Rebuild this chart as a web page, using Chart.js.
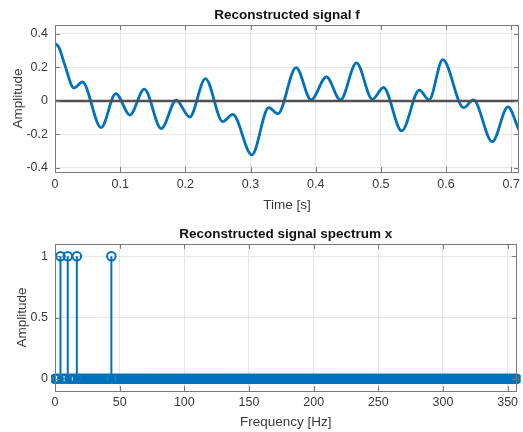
<!DOCTYPE html>
<html>
<head>
<meta charset="utf-8">
<title>Reconstructed signal</title>
<script src="https://cdn.jsdelivr.net/npm/chart.js@4.4.1/dist/chart.umd.min.js"></script>
<style>
  html, body { margin: 0; padding: 0; background: #fff; }
  #wrap { position: relative; width: 523px; height: 432px; }
  canvas { position: absolute; left: 0; }
  #signal-chart { top: 0; }
  #spectrum-chart { top: 215px; }
</style>
</head>
<body>
<div id="wrap">
  <canvas id="signal-chart" width="523" height="215"></canvas>
  <canvas id="spectrum-chart" width="523" height="217"></canvas>
</div>
<script>
/* ── Time signal f (extrema + a few slope points) ── */
const timeS = [0, 0.006, 0.015, 0.029, 0.042, 0.0708, 0.0933, 0.115, 0.137, 0.163,
  0.186, 0.2067, 0.2308, 0.2574, 0.2728, 0.302, 0.328, 0.342, 0.370, 0.393,
  0.4165, 0.438, 0.4626, 0.487, 0.504, 0.532, 0.559, 0.574, 0.595, 0.627,
  0.642, 0.671, 0.695, 0.712];
const amplitude = [0.342, 0.320, 0.215, 0.078, 0.113, -0.159, 0.044, -0.084, 0.070, -0.165,
  0.004, -0.096, 0.133, -0.123, -0.080, -0.322, -0.040, -0.076, 0.199, 0.006,
  0.143, 0.006, 0.227, 0.010, 0.080, -0.179, 0.064, 0.006, 0.247, -0.040,
  0.006, -0.243, -0.036, -0.175];
const timeTicks = [0, 0.1, 0.2, 0.3, 0.4, 0.5, 0.6, 0.7];
const timeLabels = ['0', '0.1', '0.2', '0.3', '0.4', '0.5', '0.6', '0.7'];
const ampTicks = [-0.4, -0.2, 0, 0.2, 0.4];
const ampLabels = ['-0.4', '-0.2', '0', '0.2', '0.4'];

/* ── Spectrum x (one-sided FFT bins) ── */
const sampleRate = 720;
const fftSize = 512;
const peakBins = [3, 7, 12, 31];
const peakAmps = [1, 1, 1, 1];
const freqTicks = [0, 50, 100, 150, 200, 250, 300, 350];
const freqLabels = ['0', '50', '100', '150', '200', '250', '300', '350'];
const specTicks = [0, 0.5, 1];
const specLabels = ['0', '0.5', '1'];

const COLORS = {
  line: '#0072BD',
  zero: '#4f4f4f',
  grid: '#e6e6e6',
  box: '#7a7a7a',
  text: '#3a3a3a',
  title: '#111111',
};

Chart.defaults.font.family = '"Liberation Sans", Arial, Helvetica, sans-serif';

// box around the axes + inward tick marks on all four sides
const axesBox = {
  id: 'axesBox',
  afterDatasetsDraw(chart) {
    const { ctx, chartArea: a, scales } = chart;
    const len = 5;
    ctx.save();
    ctx.strokeStyle = COLORS.box;
    ctx.lineWidth = 1;
    ctx.beginPath();
    scales.x.ticks.forEach(t => {
      const px = Math.round(scales.x.getPixelForValue(t.value)) + 0.5;
      ctx.moveTo(px, a.bottom); ctx.lineTo(px, a.bottom - len);
      ctx.moveTo(px, a.top); ctx.lineTo(px, a.top + len);
    });
    scales.y.ticks.forEach(t => {
      const py = Math.round(scales.y.getPixelForValue(t.value)) + 0.5;
      ctx.moveTo(a.left, py); ctx.lineTo(a.left + len, py);
      ctx.moveTo(a.right, py); ctx.lineTo(a.right - len, py);
    });
    ctx.stroke();
    ctx.strokeRect(Math.round(a.left) + 0.5, Math.round(a.top) + 0.5,
      Math.round(a.width) - 1, Math.round(a.height));
    ctx.restore();
  }
};

function setTicks(values) {
  return (scale) => { scale.ticks = values.map(v => ({ value: v })); };
}

function xAxis(min, max, ticks, labels, title, tickPad, height) {
  return {
    type: 'linear', min, max,
    afterBuildTicks: setTicks(ticks),
    afterFit: s => {
      s.height = height;
      // let the last label hang past the box, the right margin has room
      s.paddingLeft = 0;
      s.paddingRight = 0;
    },
    grid: { color: COLORS.grid, drawTicks: false },
    border: { display: false },
    ticks: {
      padding: tickPad, color: COLORS.text, font: { size: 12.5 },
      maxRotation: 0, autoSkip: false, callback: (v, i) => labels[i],
    },
    title: {
      display: true, text: title, color: COLORS.text,
      font: { size: 13.5 }, padding: { top: 0, bottom: 1.9 },
    },
  };
}

function yAxis(min, max, ticks, labels, title, titlePad) {
  return {
    type: 'linear', min, max,
    afterBuildTicks: setTicks(ticks),
    afterFit: s => { s.width = 55; },
    grid: { color: COLORS.grid, drawTicks: false },
    border: { display: false },
    ticks: {
      padding: 7, color: COLORS.text, font: { size: 12.5 },
      autoSkip: false, callback: (v, i) => labels[i],
    },
    title: {
      display: true, text: title, color: COLORS.text,
      font: { size: 13.5 }, padding: { top: titlePad, bottom: 0 },
    },
  };
}

function titleOpts(text, padTop) {
  return {
    display: true, text, fullSize: false, color: COLORS.title,
    font: { size: 13.5, weight: 'bold' },
    padding: { top: padTop, bottom: 1.9 },
  };
}

/* ── Top: signal ── */
const signalPts = timeS.map((t, i) => ({ x: t, y: amplitude[i] }));
const tEnd = timeS[timeS.length - 1];

new Chart(document.getElementById('signal-chart'), {
  type: 'line',
  data: {
    datasets: [
      {
        data: [{ x: timeS[0], y: 0 }, { x: tEnd, y: 0 }],
        borderColor: COLORS.zero, borderWidth: 2.5, pointRadius: 0,
      },
      {
        data: signalPts,
        borderColor: COLORS.line, borderWidth: 2.8, pointRadius: 0,
        cubicInterpolationMode: 'monotone',
      },
    ]
  },
  options: {
    responsive: false,
    animation: false,
    events: [],
    layout: { padding: { left: 0, right: 4, top: 0, bottom: 0 } },
    plugins: {
      legend: { display: false },
      tooltip: { enabled: false },
      title: titleOpts('Reconstructed signal f', 6.9),
    },
    scales: {
      x: xAxis(0, tEnd, timeTicks, timeLabels, 'Time [s]', 5.5, 43),
      y: yAxis(-0.424, 0.453, ampTicks, ampLabels, 'Amplitude', 9.9),
    }
  },
  plugins: [axesBox],
});

/* ── Bottom: stem spectrum ── */
const binHz = sampleRate / fftSize;
const spectrum = [];
for (let k = 0; k < fftSize / 2; k++) {
  const p = peakBins.indexOf(k);
  spectrum.push({ x: k * binHz, y: p >= 0 ? peakAmps[p] : 0 });
}
const stems = [];
peakBins.forEach((k, i) => {
  const f = k * binHz;
  stems.push({ x: f, y: 0 }, { x: f, y: peakAmps[i] }, { x: f, y: null });
});

new Chart(document.getElementById('spectrum-chart'), {
  type: 'line',
  data: {
    datasets: [
      {
        data: spectrum,
        showLine: false,
        clip: 4,  // edge markers spill a little past the box
        pointRadius: 4.3, pointBorderWidth: 2,
        pointBorderColor: COLORS.line, pointBackgroundColor: 'rgba(0,0,0,0)',
      },
      {
        data: stems,
        borderColor: COLORS.line, borderWidth: 2, pointRadius: 0, spanGaps: false,
      },
    ]
  },
  options: {
    responsive: false,
    animation: false,
    events: [],
    layout: { padding: { left: 0, right: 4, top: 0, bottom: 0 } },
    plugins: {
      legend: { display: false },
      tooltip: { enabled: false },
      title: titleOpts('Reconstructed signal spectrum x', 10.9),
    },
    scales: {
      x: xAxis(0, 357, freqTicks, freqLabels, 'Frequency [Hz]', 4.5, 41),
      y: yAxis(-0.1, 1.1, specTicks, specLabels, 'Amplitude', 14.6),
    }
  },
  plugins: [axesBox],
});
</script>
</body>
</html>
